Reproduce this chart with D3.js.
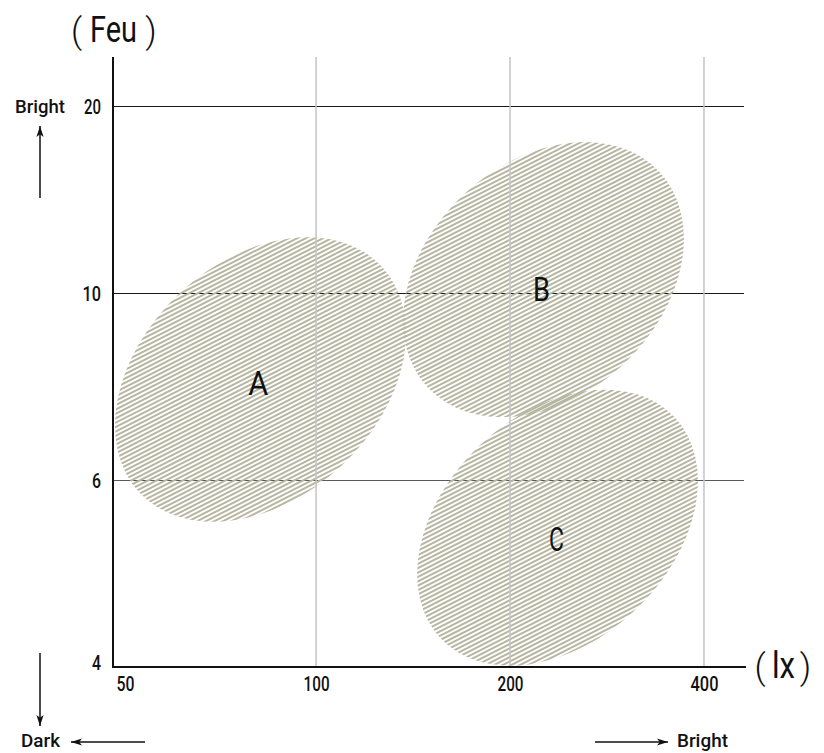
<!DOCTYPE html>
<html>
<head>
<meta charset="utf-8">
<script src="https://cdn.jsdelivr.net/npm/d3@7"></script>
<style>
  html, body { margin: 0; padding: 0; background: #fff; }
  svg { display: block; }
  text { font-family: "Roboto", "DejaVu Sans Condensed", sans-serif; fill: #111; }
</style>
</head>
<body>
<svg id="chart" width="824" height="753"></svg>
<script>
// ---- data ----
const xTicks = [50, 100, 200, 400];           // illuminance (lx)
const yTicks = [4, 6, 10, 20];                // Feu
const xGrid = [100, 200, 400];
const yGrid = [6, 10, 20];

const regionNames = ["A", "B", "C"];
const regionLx    = [82.0, 225.4, 237.0];     // centre, lx
const regionFeu   = [8.15, 10.72, 5.49];      // centre, Feu
const regionMajor = [0.854, 0.816, 0.830];    // half major axis, in octaves of lx
const regionMinor = [0.610, 0.601, 0.584];    // half minor axis, in octaves of lx
const regionTilt  = [43, 43, 43.5];           // degrees, rising to the right
const labelLx     = [81.3, 223.8, 236.2];
const labelFeu    = [8.07, 10.16, 5.36];

// ---- layout ----
const svg = d3.select("#chart");
const pLeft = 113, pRight = 746, pBottom = 667, pTop = 57;

const x = d3.scaleLog().base(2).domain([48.4, 464.8]).range([pLeft, pRight]);
const y = d3.scaleLinear().domain([4, 6, 10, 20, 22.62]).range([pBottom, 480, 293, 106, pTop]);

const octavePx = d => x(100 * Math.pow(2, d)) - x(100);
const crisp = v => Math.round(v) + 0.5;

// squeeze a text horizontally to a target width (condensed face look)
function squeeze(node, target, tx, ty) {
  const w = node.getComputedTextLength();
  const s = w > 0 ? target / w : 1;
  node.setAttribute("transform", `translate(${tx},${ty}) scale(${s},1)`);
}

// horizontal grid (under hatching)
svg.append("g").selectAll("line").data(yGrid).join("line")
  .attr("x1", pLeft).attr("x2", 744)
  .attr("y1", d => crisp(y(d))).attr("y2", d => crisp(y(d)))
  .attr("stroke", d => d === 6 ? "#5a5a5a" : "#1a1a1a")
  .attr("stroke-width", 1);

// regions
const regions = regionNames.map((n, i) => ({
  name: n, lx: regionLx[i], feu: regionFeu[i],
  a: regionMajor[i], b: regionMinor[i], tilt: regionTilt[i],
  llx: labelLx[i], lfeu: labelFeu[i], id: "clip" + n
}));

const defs = svg.append("defs");
defs.selectAll("clipPath").data(regions).join("clipPath")
  .attr("id", d => d.id)
  .append("ellipse")
  .attr("cx", 0).attr("cy", 0)
  .attr("rx", d => octavePx(d.a))
  .attr("ry", d => octavePx(d.b))
  .attr("transform", d => `translate(${x(d.lx)},${y(d.feu)}) rotate(${-d.tilt})`);

const hatchAngle = -27, hatchGap = 3.9, hatchWidth = 2.0;
const rg = svg.append("g").selectAll("g").data(regions).join("g")
  .attr("clip-path", d => `url(#${d.id})`);
rg.each(function(d) {
  const R = octavePx(d.a) + 10;
  const g = d3.select(this).append("g")
    .attr("transform", `translate(${x(d.lx)},${y(d.feu)}) rotate(${hatchAngle})`);
  const n = Math.ceil(R / hatchGap);
  g.selectAll("line").data(d3.range(-n, n + 1)).join("line")
    .attr("x1", -R).attr("x2", R)
    .attr("y1", k => k * hatchGap).attr("y2", k => k * hatchGap)
    .attr("stroke", "#b7b6a2").attr("stroke-width", hatchWidth);
});

// vertical grid (over hatching)
svg.append("g").selectAll("line").data(xGrid).join("line")
  .attr("x1", d => x(d)).attr("x2", d => x(d))
  .attr("y1", pTop).attr("y2", pBottom)
  .attr("stroke", "#c4c4c4")
  .attr("stroke-width", 1.5);

// axes lines
svg.append("line").attr("x1", pLeft).attr("x2", pLeft).attr("y1", pTop).attr("y2", pBottom + 1)
  .attr("stroke", "#111").attr("stroke-width", 2);
svg.append("line").attr("x1", pLeft - 1).attr("x2", pRight).attr("y1", pBottom).attr("y2", pBottom)
  .attr("stroke", "#111").attr("stroke-width", 2);

// tick labels via d3 axes (condensed digits)
const digitW = { 50: 18, 100: 26, 200: 26, 400: 28, 4: 9, 6: 9, 10: 18.5, 20: 17 };
const xAxis = d3.axisBottom(x).tickValues(xTicks).tickFormat(d3.format("d")).tickSize(0).tickPadding(0);
const gx = svg.append("g").attr("transform", `translate(0,${pBottom + 8})`).call(xAxis);
gx.select(".domain").remove();
gx.selectAll("text").attr("font-size", 21).attr("fill", "#111")
  .attr("font-family", "Roboto, DejaVu Sans Condensed, sans-serif")
  .attr("font-weight", 500)
  .attr("dy", "0.75em")
  .each(function(d) { squeeze(this, digitW[d], d === 50 ? 3 : 0, 0); });

const yAxis = d3.axisLeft(y).tickValues(yTicks).tickFormat(d3.format("d")).tickSize(0).tickPadding(0);
const gy = svg.append("g").attr("transform", `translate(${pLeft - 12},0)`).call(yAxis);
gy.select(".domain").remove();
gy.selectAll("text").attr("font-size", 21).attr("fill", "#111")
  .attr("font-family", "Roboto, DejaVu Sans Condensed, sans-serif")
  .attr("font-weight", 500)
  .attr("dy", d => d === 4 ? "0.1em" : "0.35em")
  .each(function(d) { squeeze(this, digitW[d], 0, 0); });

// region labels
const letterW = { A: 20, B: 17, C: 15 };
svg.append("g").selectAll("text").data(regions).join("text")
  .attr("text-anchor", "middle").attr("dominant-baseline", "central")
  .attr("font-size", 33)
  .text(d => d.name)
  .each(function(d) { squeeze(this, letterW[d.name], x(d.llx), y(d.lfeu)); });

// axis titles: thin brackets around condensed unit names
function unitTitle(name, cx, base, wName, lp, rp) {
  const g = svg.append("g");
  g.append("text").attr("x", lp).attr("y", base + 1).attr("text-anchor", "middle")
    .attr("font-size", 35).attr("font-weight", 300).attr("fill", "#222").text("(");
  const t = g.append("text").attr("text-anchor", "middle").attr("font-size", 37).text(name);
  squeeze(t.node(), wName, cx, base);
  g.append("text").attr("x", rp).attr("y", base + 1).attr("text-anchor", "middle")
    .attr("font-size", 35).attr("font-weight", 300).attr("fill", "#222").text(")");
}
unitTitle("Feu", 113.5, 42, 47, 76.5, 151);
unitTitle("lx", 783.5, 678, 23, 760, 805.5);

// direction arrows
function arrow(x1, y1, x2, y2) {
  svg.append("line").attr("x1", x1).attr("y1", y1).attr("x2", x2).attr("y2", y2)
    .attr("stroke", "#111").attr("stroke-width", 1.5);
  const ang = Math.atan2(y2 - y1, x2 - x1);
  const L = 11, W = 3.6;
  const bx = x2 - L * Math.cos(ang), by = y2 - L * Math.sin(ang);
  const px = -Math.sin(ang) * W, py = Math.cos(ang) * W;
  svg.append("path")
    .attr("d", `M${x2},${y2}L${bx + px},${by + py}L${bx + L * 0.25 * Math.cos(ang)},${by + L * 0.25 * Math.sin(ang)}L${bx - px},${by - py}Z`)
    .attr("fill", "#111");
}
arrow(40, 198, 40, 126);
arrow(40, 653, 40, 726);
arrow(145, 742, 71, 742);
arrow(595, 742, 668, 742);

const side = [["Bright", 15, 113, 50], ["Dark", 21, 747, 39], ["Bright", 677, 747, 51]];
side.forEach(([t, tx, ty, w]) => {
  const el = svg.append("text").attr("font-size", 18).attr("font-weight", 500).text(t);
  squeeze(el.node(), w, tx, ty);
});
</script>
</body>
</html>
